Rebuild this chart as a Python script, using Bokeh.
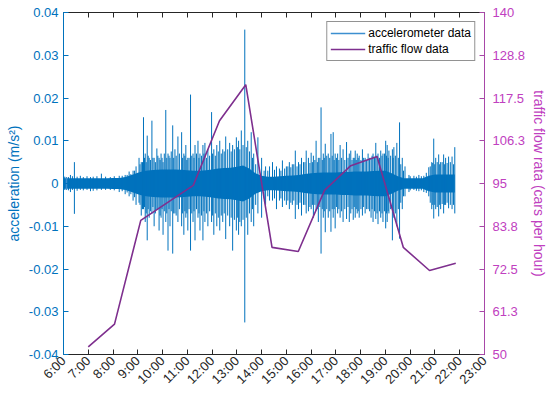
import math
from bokeh.plotting import figure
from bokeh.models import Range1d, LinearAxis, FixedTicker, Legend, LegendItem
from bokeh.embed import file_html
from bokeh.resources import INLINE

# ---------------- data ----------------
hour_ticks = [6, 7, 8, 9, 10, 11, 12, 13, 14, 15, 16, 17, 18, 19, 20, 21, 22, 23]
hour_labels = ["6:00", "7:00", "8:00", "9:00", "10:00", "11:00", "12:00", "13:00", "14:00",
               "15:00", "16:00", "17:00", "18:00", "19:00", "20:00", "21:00", "22:00", "23:00"]

acc_ticks = [-0.04, -0.03, -0.02, -0.01, 0.0, 0.01, 0.02, 0.03, 0.04]
acc_labels = ["-0.04", "-0.03", "-0.02", "-0.01", "0", "0.01", "0.02", "0.03", "0.04"]

flow_ticks = [50, 61.25, 72.5, 83.75, 95, 106.25, 117.5, 128.75, 140]
flow_labels = ["50", "61.3", "72.5", "83.8", "95", "106.3", "117.5", "128.8", "140"]

# dense core of the accelerometer record (half amplitude, every quarter hour)
core_t = [6.0, 6.25, 6.5, 6.75, 7.0, 7.25, 7.5, 7.75, 8.0, 8.25, 8.5, 8.75, 9.0, 9.25, 9.5,
          9.75, 10.0, 10.25, 10.5, 10.75, 11.0, 11.25, 11.5, 11.75, 12.0, 12.25, 12.5, 12.75,
          13.0, 13.25, 13.5, 13.75, 14.0, 14.25, 14.5, 14.75, 15.0, 15.25, 15.5, 15.75, 16.0,
          16.25, 16.5, 16.75, 17.0, 17.25, 17.5, 17.75, 18.0, 18.25, 18.5, 18.75, 19.0, 19.25,
          19.5, 19.75, 20.0, 20.25, 20.5, 20.75, 21.0, 21.25, 21.5, 21.8]
core_amp = [0.0012, 0.0012, 0.0012, 0.0012, 0.0012, 0.0012, 0.0012, 0.0012, 0.0013, 0.0013,
            0.0015, 0.0020, 0.0025, 0.0029, 0.0031, 0.0032, 0.0033, 0.0033, 0.0033, 0.0032,
            0.0031, 0.0030, 0.0030, 0.0031, 0.0033, 0.0035, 0.0036, 0.0037, 0.0039, 0.0042,
            0.0035, 0.0024, 0.0018, 0.0016, 0.0016, 0.0017, 0.0018, 0.0019, 0.0020, 0.0022,
            0.0024, 0.0025, 0.0026, 0.0026, 0.0026, 0.0027, 0.0027, 0.0028, 0.0028, 0.0028,
            0.0029, 0.0030, 0.0030, 0.0024, 0.0017, 0.0012, 0.0012, 0.0012, 0.0012, 0.0018,
            0.0021, 0.0021, 0.0021, 0.0021]

# large spikes: time (h), peak above zero, trough below zero (m/s^2)
spike_t = [6.12, 6.28, 6.44, 6.68, 7.09, 7.53, 7.89, 8.25, 8.49, 8.65, 8.81, 8.93, 9.05, 9.14,
           9.23, 9.30, 9.38, 9.46, 9.57, 9.66, 9.77, 9.86, 9.94, 10.02, 10.13, 10.22, 10.30,
           10.41, 10.50, 10.62, 10.77, 10.86, 10.94, 11.02, 11.13, 11.23, 11.31, 11.43, 11.51,
           11.63, 11.71, 11.83, 11.98, 12.07, 12.19, 12.31, 12.43, 12.55, 12.71, 12.83, 12.98,
           13.07, 13.18, 13.32, 13.44, 13.58, 13.68, 13.85, 14.00, 14.16, 14.32, 14.44, 14.60,
           14.72, 14.84, 15.00, 15.12, 15.24, 15.36, 15.49, 15.61, 15.69, 15.80, 15.89, 16.00,
           16.09, 16.20, 16.29, 16.40, 16.49, 16.57, 16.69, 16.80, 16.89, 16.97, 17.07, 17.17,
           17.29, 17.43, 17.54, 17.60, 17.70, 17.78, 17.86, 17.94, 18.07, 18.18, 18.30, 18.42,
           18.50, 18.61, 18.70, 18.81, 18.90, 19.01, 19.07, 19.14, 19.28, 19.34, 19.46, 19.57,
           19.68, 19.79, 19.95, 20.15, 20.35, 20.55, 20.75, 20.87, 20.95, 21.03, 21.15, 21.23,
           21.35, 21.43, 21.55, 21.69, 21.80]
spike_up = [0.0015, 0.0020, 0.0050, 0.0018, 0.0015, 0.0023, 0.0015, 0.0018, 0.0020, 0.0028,
            0.0030, 0.0040, 0.0060, 0.0050, 0.0155, 0.0070, 0.0112, 0.0060, 0.0147, 0.0060,
            0.0082, 0.0060, 0.0070, 0.0050, 0.0172, 0.0070, 0.0060, 0.0136, 0.0080, 0.0110,
            0.0120, 0.0070, 0.0090, 0.0060, 0.0208, 0.0070, 0.0090, 0.0100, 0.0070, 0.0090,
            0.0095, 0.0080, 0.0167, 0.0080, 0.0090, 0.0100, 0.0080, 0.0110, 0.0095, 0.0090,
            0.0108, 0.0100, 0.0124, 0.0360, 0.0100, 0.0120, 0.0070, 0.0108, 0.0060, 0.0040,
            0.0040, 0.0050, 0.0040, 0.0035, 0.0054, 0.0040, 0.0050, 0.0045, 0.0077, 0.0050,
            0.0060, 0.0050, 0.0077, 0.0060, 0.0072, 0.0065, 0.0100, 0.0060, 0.0178, 0.0070,
            0.0093, 0.0070, 0.0116, 0.0120, 0.0070, 0.0070, 0.0090, 0.0080, 0.0097, 0.0070,
            0.0077, 0.0060, 0.0077, 0.0070, 0.0065, 0.0080, 0.0060, 0.0070, 0.0060, 0.0070,
            0.0095, 0.0070, 0.0077, 0.0070, 0.0100, 0.0090, 0.0077, 0.0080, 0.0085, 0.0095,
            0.0143, 0.0060, 0.0040, 0.0020, 0.0018, 0.0020, 0.0018, 0.0038, 0.0050, 0.0105,
            0.0060, 0.0068, 0.0050, 0.0068, 0.0060, 0.0063, 0.0063, 0.0085]
spike_dn = [-0.0015, -0.0020, -0.0071, -0.0015, -0.0018, -0.0015, -0.0015, -0.0020, -0.0025,
            -0.0030, -0.0040, -0.0050, -0.0045, -0.0075, -0.0060, -0.0090, -0.0133, -0.0080,
            -0.0070, -0.0100, -0.0060, -0.0110, -0.0080, -0.0120, -0.0090, -0.0157, -0.0100,
            -0.0164, -0.0070, -0.0090, -0.0100, -0.0120, -0.0080, -0.0110, -0.0157, -0.0090,
            -0.0133, -0.0080, -0.0110, -0.0133, -0.0090, -0.0100, -0.0090, -0.0120, -0.0100,
            -0.0110, -0.0090, -0.0130, -0.0100, -0.0157, -0.0110, -0.0120, -0.0100, -0.0325,
            -0.0120, -0.0090, -0.0100, -0.0070, -0.0080, -0.0050, -0.0040, -0.0040, -0.0060,
            -0.0040, -0.0055, -0.0050, -0.0060, -0.0050, -0.0083, -0.0060, -0.0075, -0.0050,
            -0.0070, -0.0065, -0.0060, -0.0080, -0.0063, -0.0090, -0.0164, -0.0080, -0.0114,
            -0.0080, -0.0113, -0.0080, -0.0105, -0.0070, -0.0080, -0.0090, -0.0083, -0.0090,
            -0.0070, -0.0085, -0.0080, -0.0070, -0.0080, -0.0075, -0.0070, -0.0060, -0.0080,
            -0.0090, -0.0083, -0.0095, -0.0080, -0.0090, -0.0105, -0.0090, -0.0070, -0.0133,
            -0.0080, -0.0100, -0.0129, -0.0060, -0.0030, -0.0020, -0.0015, -0.0018, -0.0020,
            -0.0030, -0.0060, -0.0082, -0.0060, -0.0077, -0.0060, -0.0070, -0.0050, -0.0058,
            -0.0060, -0.0070]

# smaller spikes between the large ones
minor_t = [6.05, 6.20, 6.36, 6.55, 6.80, 6.95, 7.20, 7.35, 7.70, 8.05, 8.37, 8.57, 8.72, 8.87,
           9.09, 9.19, 9.27, 9.34, 9.42, 9.51, 9.61, 9.71, 9.81, 9.90, 9.98, 10.07, 10.17,
           10.26, 10.35, 10.45, 10.55, 10.68, 10.81, 10.90, 10.98, 11.07, 11.18, 11.27, 11.37,
           11.47, 11.57, 11.67, 11.77, 11.90, 12.02, 12.13, 12.25, 12.37, 12.49, 12.63, 12.77,
           12.90, 13.02, 13.12, 13.25, 13.38, 13.51, 13.63, 13.76, 14.10, 14.25, 14.52, 14.78,
           14.93, 15.06, 15.18, 15.30, 15.43, 15.55, 15.75, 15.95, 16.05, 16.15, 16.25, 16.35,
           16.45, 16.53, 16.63, 16.75, 16.85, 16.93, 17.02, 17.12, 17.23, 17.36, 17.49, 17.65,
           17.74, 17.82, 17.90, 18.01, 18.12, 18.24, 18.36, 18.46, 18.56, 18.66, 18.76, 18.86,
           18.96, 19.04, 19.11, 19.21, 19.31, 19.40, 19.52, 19.62, 19.73, 20.00, 20.25, 20.45,
           20.65, 20.81, 20.91, 20.99, 21.09, 21.19, 21.29, 21.39, 21.49, 21.62, 21.75]
minor_up = [0.0016, 0.0015, 0.0017, 0.0016, 0.0015, 0.0017, 0.0016, 0.0017, 0.0016, 0.0017,
            0.0018, 0.0020, 0.0022, 0.0030, 0.0045, 0.0050, 0.0060, 0.0050, 0.0065, 0.0055,
            0.0060, 0.0050, 0.0065, 0.0055, 0.0060, 0.0070, 0.0060, 0.0065, 0.0075, 0.0060,
            0.0065, 0.0070, 0.0060, 0.0065, 0.0055, 0.0060, 0.0065, 0.0060, 0.0070, 0.0060,
            0.0065, 0.0070, 0.0060, 0.0065, 0.0070, 0.0065, 0.0075, 0.0070, 0.0075, 0.0080,
            0.0075, 0.0080, 0.0085, 0.0080, 0.0090, 0.0085, 0.0075, 0.0060, 0.0045, 0.0030,
            0.0030, 0.0032, 0.0030, 0.0035, 0.0040, 0.0038, 0.0045, 0.0040, 0.0045, 0.0050,
            0.0048, 0.0050, 0.0055, 0.0050, 0.0060, 0.0055, 0.0060, 0.0065, 0.0060, 0.0065,
            0.0055, 0.0060, 0.0055, 0.0060, 0.0055, 0.0060, 0.0055, 0.0060, 0.0055, 0.0060,
            0.0055, 0.0060, 0.0055, 0.0060, 0.0065, 0.0060, 0.0065, 0.0060, 0.0065, 0.0070,
            0.0065, 0.0060, 0.0065, 0.0060, 0.0065, 0.0060, 0.0045, 0.0030, 0.0017, 0.0016,
            0.0017, 0.0025, 0.0040, 0.0048, 0.0045, 0.0050, 0.0045, 0.0050, 0.0045, 0.0048,
            0.0050, 0.0045]
minor_dn = [-0.0015, -0.0016, -0.0015, -0.0017, -0.0016, -0.0015, -0.0017, -0.0016, -0.0015,
            -0.0016, -0.0018, -0.0021, -0.0025, -0.0032, -0.0050, -0.0060, -0.0055, -0.0070,
            -0.0060, -0.0065, -0.0055, -0.0070, -0.0060, -0.0075, -0.0060, -0.0065, -0.0070,
            -0.0060, -0.0065, -0.0070, -0.0075, -0.0060, -0.0070, -0.0065, -0.0070, -0.0060,
            -0.0070, -0.0065, -0.0060, -0.0070, -0.0075, -0.0065, -0.0070, -0.0065, -0.0075,
            -0.0070, -0.0080, -0.0075, -0.0070, -0.0075, -0.0080, -0.0085, -0.0080, -0.0090,
            -0.0085, -0.0080, -0.0070, -0.0060, -0.0050, -0.0035, -0.0030, -0.0035, -0.0035,
            -0.0040, -0.0040, -0.0045, -0.0040, -0.0050, -0.0045, -0.0050, -0.0055, -0.0050,
            -0.0050, -0.0060, -0.0055, -0.0060, -0.0065, -0.0060, -0.0065, -0.0060, -0.0060,
            -0.0055, -0.0060, -0.0065, -0.0060, -0.0055, -0.0060, -0.0055, -0.0060, -0.0065,
            -0.0060, -0.0055, -0.0060, -0.0065, -0.0060, -0.0065, -0.0070, -0.0065, -0.0070,
            -0.0065, -0.0070, -0.0065, -0.0060, -0.0065, -0.0070, -0.0060, -0.0045, -0.0030,
            -0.0016, -0.0017, -0.0016, -0.0022, -0.0045, -0.0050, -0.0050, -0.0055, -0.0050,
            -0.0048, -0.0050, -0.0045, -0.0050, -0.0050]

# traffic flow (cars per hour)
flow_t = [7.00, 8.06, 9.12, 10.18, 11.24, 12.30, 13.36, 14.42, 15.48, 16.54, 17.60, 18.66,
          19.72, 20.78, 21.84]
flow_v = [52.0, 58.0, 85.3, 89.9, 94.5, 111.5, 121.0, 78.2, 77.1, 93.2, 99.7, 102.1, 78.2,
          72.1, 74.0]

# ---------------- styling ----------------
BLUE = "#0072BD"
KEY_BLUE = "#3C8FD0"
PURPLE = "#7E2F8E"
MAG_TEXT = "#C040C0"
MAG_LINE = "#A848A8"
DARK = "#262626"
FONT = "Liberation Sans"

p = figure(width=550, height=397, x_range=Range1d(6, 23), y_range=Range1d(-0.04, 0.04),
           output_backend="svg", toolbar_location=None,
           min_border_left=63, min_border_right=64, min_border_top=12, min_border_bottom=43,
           background_fill_color="white", border_fill_color="white")
p.grid.visible = False
p.outline_line_color = None

p.extra_y_ranges = {"flow": Range1d(50, 140)}

# accelerometer signal
p.varea(x=core_t, y1=[-a for a in core_amp], y2=core_amp, fill_color=BLUE, fill_alpha=1.0)
p.segment(x0=minor_t, y0=minor_dn, x1=minor_t, y1=minor_up, line_color=BLUE, line_width=1)
p.segment(x0=spike_t, y0=spike_dn, x1=spike_t, y1=spike_up, line_color=BLUE, line_width=1)
# legend key: the first spike drawn again as a line
acc_key = p.line(x=[spike_t[0], spike_t[0]], y=[spike_dn[0], spike_up[0]],
                 line_color=KEY_BLUE, line_width=1.5)

# traffic flow
flow_r = p.line(flow_t, flow_v, y_range_name="flow", line_color=PURPLE, line_width=1.6)

# x axis (bottom)
xa = p.xaxis[0]
xa.ticker = FixedTicker(ticks=hour_ticks)
xa.major_label_overrides = {t: l for t, l in zip(hour_ticks, hour_labels)}
xa.major_label_orientation = math.pi / 4
xa.major_tick_in = 5
xa.major_tick_out = 0
xa.minor_tick_line_color = None
xa.axis_line_color = DARK
xa.major_tick_line_color = DARK
xa.major_label_text_color = DARK
xa.major_label_text_font = FONT
xa.major_label_text_font_size = "13px"
xa.major_label_standoff = 4

# top box axis
top = LinearAxis(ticker=FixedTicker(ticks=hour_ticks))
top.major_label_overrides = {t: "" for t in hour_ticks}
top.major_label_text_font_size = "1px"
top.major_tick_in = 5
top.major_tick_out = 0
top.minor_tick_line_color = None
top.axis_line_color = DARK
top.major_tick_line_color = DARK
top.major_label_standoff = 0
p.add_layout(top, "above")

# left axis
ya = p.yaxis[0]
ya.ticker = FixedTicker(ticks=acc_ticks)
ya.major_label_overrides = {t: l for t, l in zip(acc_ticks, acc_labels)}
ya.major_tick_in = 5
ya.major_tick_out = 0
ya.minor_tick_line_color = None
ya.axis_line_color = BLUE
ya.major_tick_line_color = BLUE
ya.major_label_text_color = BLUE
ya.major_label_text_font = FONT
ya.major_label_text_font_size = "13px"
ya.major_label_standoff = 5
ya.axis_label = "acceleration (m/s²)"
ya.axis_label_text_color = BLUE
ya.axis_label_text_font = FONT
ya.axis_label_text_font_size = "14px"
ya.axis_label_text_font_style = "normal"
ya.axis_label_standoff = 4

# right axis
ra = LinearAxis(y_range_name="flow", ticker=FixedTicker(ticks=flow_ticks))
ra.major_label_overrides = {t: l for t, l in zip(flow_ticks, flow_labels)}
ra.major_tick_in = 5
ra.major_tick_out = 0
ra.minor_tick_line_color = None
ra.axis_line_color = MAG_LINE
ra.major_tick_line_color = MAG_LINE
ra.major_label_text_color = MAG_TEXT
ra.major_label_text_font = FONT
ra.major_label_text_font_size = "13px"
ra.major_label_standoff = 8
ra.axis_label = "traffic flow rata (cars per hour)"
ra.axis_label_text_color = MAG_TEXT
ra.axis_label_text_font = FONT
ra.axis_label_text_font_size = "14px"
ra.axis_label_text_font_style = "normal"
ra.axis_label_standoff = 3
p.add_layout(ra, "right")

# legend
lg = Legend(items=[LegendItem(label="accelerometer data", renderers=[acc_key]),
                   LegendItem(label="traffic flow data", renderers=[flow_r])])
lg.location = "top_right"
lg.margin = 9
lg.padding = 3
lg.spacing = 0
lg.glyph_width = 35
lg.glyph_height = 16
lg.label_height = 16
lg.label_standoff = 3
lg.label_text_font = FONT
lg.label_text_font_size = "12px"
lg.label_text_color = "black"
lg.border_line_color = DARK
lg.border_line_width = 1
lg.background_fill_color = "white"
lg.background_fill_alpha = 1.0
p.add_layout(lg, "center")

open("out.html", "w").write(file_html(p, INLINE))
